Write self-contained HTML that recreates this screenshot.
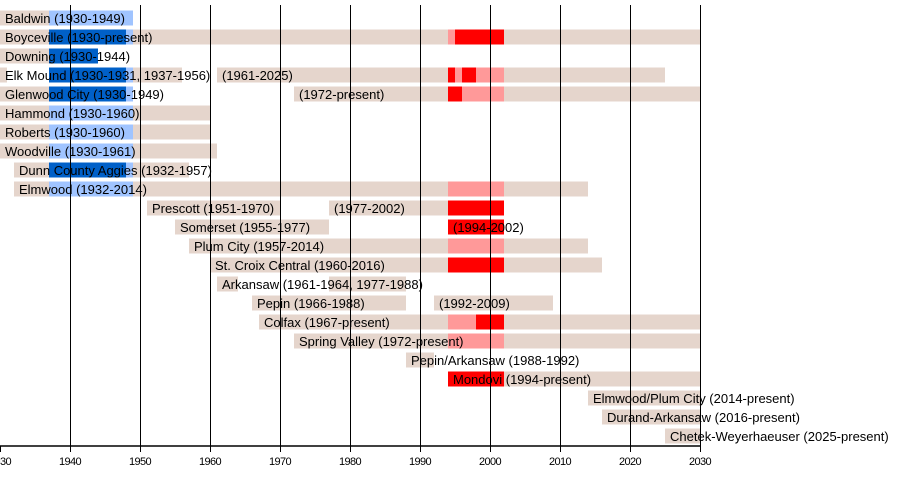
<!DOCTYPE html>
<html><head><style>
html,body{margin:0;padding:0;background:#fff;width:900px;height:495px;overflow:hidden}
svg{display:block}
text{font-family:"Liberation Sans",sans-serif;font-size:13px;fill:#000}
.t{font-size:11px;text-anchor:middle;letter-spacing:-0.6px}
</style></head><body>
<svg width="900" height="495" xmlns="http://www.w3.org/2000/svg">
<g fill="#e5d5cc">
<rect x="0" y="10.5" width="133" height="15"/>
<rect x="0" y="29.5" width="700" height="15"/>
<rect x="0" y="48.5" width="98" height="15"/>
<rect x="0" y="67.5" width="7" height="15"/><rect x="49" y="67.5" width="133" height="15"/><rect x="217" y="67.5" width="448" height="15"/>
<rect x="0" y="86.5" width="133" height="15"/><rect x="294" y="86.5" width="406" height="15"/>
<rect x="0" y="105.5" width="210" height="15"/>
<rect x="0" y="124.5" width="210" height="15"/>
<rect x="0" y="143.5" width="217" height="15"/>
<rect x="14" y="162.5" width="175" height="15"/>
<rect x="14" y="181.5" width="574" height="15"/>
<rect x="147" y="200.5" width="133" height="15"/><rect x="329" y="200.5" width="175" height="15"/>
<rect x="175" y="219.5" width="154" height="15"/>
<rect x="189" y="238.5" width="399" height="15"/>
<rect x="210" y="257.5" width="392" height="15"/>
<rect x="217" y="276.5" width="21" height="15"/><rect x="329" y="276.5" width="77" height="15"/>
<rect x="252" y="295.5" width="154" height="15"/><rect x="434" y="295.5" width="119" height="15"/>
<rect x="259" y="314.5" width="441" height="15"/>
<rect x="294" y="333.5" width="406" height="15"/>
<rect x="406" y="352.5" width="28" height="15"/>
<rect x="448" y="371.5" width="252" height="15"/>
<rect x="588" y="390.5" width="112" height="15"/>
<rect x="602" y="409.5" width="98" height="15"/>
<rect x="665" y="428.5" width="35" height="15"/>
</g>
<g fill="#a0c4ff">
<rect x="49" y="10.5" width="84" height="15"/>
<rect x="126" y="67.5" width="7" height="15"/>
<rect x="126" y="162.5" width="7" height="15"/>
<rect x="49" y="105.5" width="84" height="15"/>
<rect x="49" y="124.5" width="84" height="15"/>
<rect x="49" y="143.5" width="84" height="15"/>
<rect x="49" y="181.5" width="84" height="15"/>
<rect x="126" y="29.5" width="7" height="15"/>
<rect x="126" y="86.5" width="7" height="15"/>
</g>
<g fill="#0060c8">
<rect x="49" y="29.5" width="77" height="15"/>
<rect x="49" y="48.5" width="49" height="15"/>
<rect x="49" y="67.5" width="77" height="15"/>
<rect x="49" y="86.5" width="77" height="15"/>
<rect x="49" y="162.5" width="77" height="15"/>
</g>
<g fill="#ff9999">
<rect x="448" y="29.5" width="7" height="15"/>
<rect x="455" y="67.5" width="7" height="15"/><rect x="476" y="67.5" width="28" height="15"/>
<rect x="462" y="86.5" width="42" height="15"/>
<rect x="448" y="181.5" width="56" height="15"/>
<rect x="448" y="238.5" width="56" height="15"/>
<rect x="448" y="314.5" width="28" height="15"/>
<rect x="448" y="333.5" width="56" height="15"/>
</g>
<g fill="#ff0000">
<rect x="455" y="29.5" width="49" height="15"/>
<rect x="448" y="67.5" width="7" height="15"/><rect x="462" y="67.5" width="14" height="15"/>
<rect x="448" y="86.5" width="14" height="15"/>
<rect x="448" y="200.5" width="56" height="15"/>
<rect x="448" y="219.5" width="56" height="15"/>
<rect x="448" y="257.5" width="56" height="15"/>
<rect x="476" y="314.5" width="28" height="15"/>
<rect x="448" y="371.5" width="56" height="15"/>
</g>
<g stroke="#000" stroke-width="1">
<line x1="70.5" y1="5" x2="70.5" y2="452"/><line x1="140.5" y1="5" x2="140.5" y2="452"/>
<line x1="210.5" y1="5" x2="210.5" y2="452"/><line x1="280.5" y1="5" x2="280.5" y2="452"/>
<line x1="350.5" y1="5" x2="350.5" y2="452"/><line x1="420.5" y1="5" x2="420.5" y2="452"/>
<line x1="490.5" y1="5" x2="490.5" y2="452"/><line x1="560.5" y1="5" x2="560.5" y2="452"/>
<line x1="630.5" y1="5" x2="630.5" y2="452"/><line x1="700.5" y1="5" x2="700.5" y2="452"/>
<line x1="0.5" y1="446" x2="0.5" y2="452"/>
<line x1="0" y1="446" x2="701" y2="446" stroke-width="1.5"/>
</g>
<g>
<text x="5" y="23">Baldwin (1930-1949)</text>
<text x="5" y="42">Boyceville (1930-present)</text>
<text x="5" y="61">Downing (1930-1944)</text>
<text x="5" y="80">Elk Mound (1930-1931, 1937-1956)</text><text x="222" y="80">(1961-2025)</text>
<text x="5" y="99">Glenwood City (1930-1949)</text><text x="299" y="99">(1972-present)</text>
<text x="5" y="118">Hammond (1930-1960)</text>
<text x="5" y="137">Roberts (1930-1960)</text>
<text x="5" y="156">Woodville (1930-1961)</text>
<text x="19" y="175">Dunn County Aggies (1932-1957)</text>
<text x="19" y="194">Elmwood (1932-2014)</text>
<text x="152" y="213">Prescott (1951-1970)</text><text x="334" y="213">(1977-2002)</text>
<text x="180" y="232">Somerset (1955-1977)</text><text x="453" y="232">(1994-2002)</text>
<text x="194" y="251">Plum City (1957-2014)</text>
<text x="215" y="270">St. Croix Central (1960-2016)</text>
<text x="222" y="289">Arkansaw (1961-1964, 1977-1988)</text>
<text x="257" y="308">Pepin (1966-1988)</text><text x="439" y="308">(1992-2009)</text>
<text x="264" y="327">Colfax (1967-present)</text>
<text x="299" y="346">Spring Valley (1972-present)</text>
<text x="411" y="365">Pepin/Arkansaw (1988-1992)</text>
<text x="453" y="384">Mondovi (1994-present)</text>
<text x="593" y="403">Elmwood/Plum City (2014-present)</text>
<text x="607" y="422">Durand-Arkansaw (2016-present)</text>
<text x="670" y="441">Chetek-Weyerhaeuser (2025-present)</text>
</g>
<g>
<text class="t" x="0" y="465">1930</text><text class="t" x="70" y="465">1940</text>
<text class="t" x="140" y="465">1950</text><text class="t" x="210" y="465">1960</text>
<text class="t" x="280" y="465">1970</text><text class="t" x="350" y="465">1980</text>
<text class="t" x="420" y="465">1990</text><text class="t" x="490" y="465">2000</text>
<text class="t" x="560" y="465">2010</text><text class="t" x="630" y="465">2020</text>
<text class="t" x="700" y="465">2030</text>
</g>
</svg>
</body></html>
